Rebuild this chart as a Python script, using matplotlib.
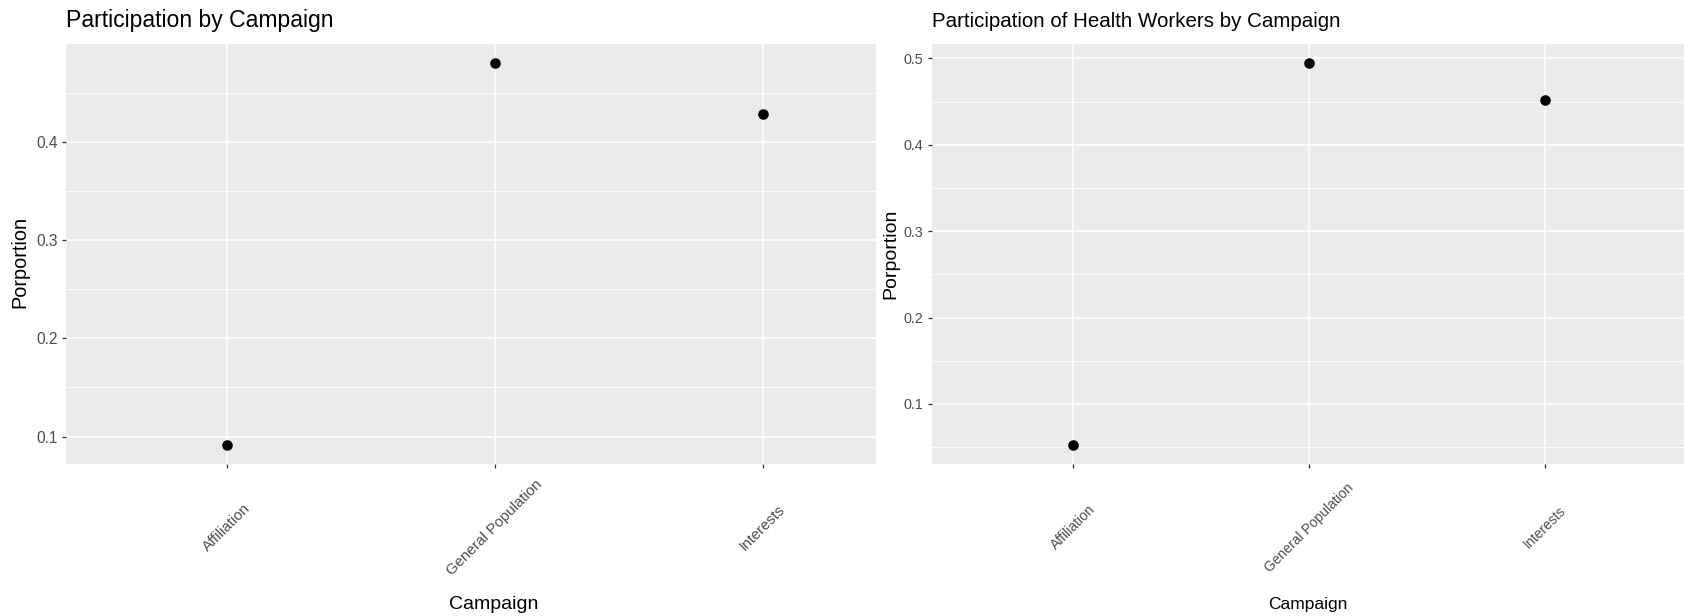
import matplotlib
matplotlib.use("Agg")
import matplotlib.pyplot as plt
import numpy as np

plt.rcParams['font.family'] = ['Liberation Sans', 'DejaVu Sans']

# Participation proportions per recruitment campaign
campaigns = ["Affiliation", "General Population", "Interests"]
overall = [0.0915, 0.480, 0.428]
health_workers = [0.0525, 0.4946, 0.4517]

left_yticks = [0.1, 0.2, 0.3, 0.4]
left_minor = [0.15, 0.25, 0.35, 0.45]
right_yticks = [0.1, 0.2, 0.3, 0.4, 0.5]
right_minor = [0.05, 0.15, 0.25, 0.35, 0.45]

PANEL_BG = "#EBEBEB"
TICK_TXT = "#4D4D4D"
TICK_COL = "#333333"

W, H = 1684, 616
fig = plt.figure(figsize=(W / 100, H / 100), dpi=100)


def expanded(vals, mult=0.05):
    lo, hi = min(vals), max(vals)
    pad = (hi - lo) * mult
    return lo - pad, hi + pad


def style_panel(ax, values, yticks, yminor, xlim, title, sizes, ylab_pos, xlab_pos):
    x = np.arange(len(campaigns))
    ax.set_facecolor(PANEL_BG)
    for s in ax.spines.values():
        s.set_visible(False)
    ax.set_axisbelow(True)
    ax.scatter(x, values, s=58, color="black", linewidths=0, zorder=3)
    ax.set_xlim(*xlim)
    ax.set_ylim(*expanded(values))
    ax.set_yticks(yticks)
    ax.set_yticklabels([f"{t:.1f}" for t in yticks])
    ax.set_yticks(yminor, minor=True)
    ax.set_xticks(x)
    ax.set_xticklabels(campaigns, rotation=45, ha="center", va="center")
    ax.grid(which="major", color="white", linewidth=1.2)
    ax.grid(which="minor", axis="y", color="white", linewidth=0.6)
    ax.tick_params(axis="y", which="major", length=3, width=0.9, color=TICK_COL,
                   labelcolor=TICK_TXT, labelsize=sizes["ytick"], pad=3)
    ax.tick_params(axis="x", which="major", length=3.2, width=0.9, color=TICK_COL,
                   labelcolor=TICK_TXT, labelsize=sizes["xtick"], pad=42.5)
    ax.tick_params(which="minor", length=0)
    ax.set_title(title, loc="left", fontsize=sizes["title"], pad=12.5, color="black")
    ax.set_ylabel("Porportion", fontsize=sizes["ylab"], color="black")
    ax.yaxis.set_label_coords(*ylab_pos)
    ax.yaxis.label.set_va("center")
    ax.set_xlabel("Campaign", fontsize=sizes["xlab"], color="black")
    ax.xaxis.set_label_coords(*xlab_pos)
    ax.xaxis.label.set_va("center")


top, bottom = 44, 464
ay = (H - bottom) / H
ah = (bottom - top) / H

ax1 = fig.add_axes([66 / W, ay, (876 - 66) / W, ah])
style_panel(ax1, overall, left_yticks, left_minor, (-0.6, 2.4235),
            "Participation by Campaign",
            dict(title=16.6, ylab=14.3, xlab=14, ytick=11.2, xtick=10.8),
            (-0.057, 0.48), (0.528, -0.334))

ax2 = fig.add_axes([931.5 / W, ay, (W - 931.5) / W, ah])
style_panel(ax2, health_workers, right_yticks, right_minor, (-0.6, 2.59),
            "Participation of Health Workers by Campaign",
            dict(title=14.8, ylab=14, xlab=12.5, ytick=10.4, xtick=10),
            (-0.054, 0.5), (0.5, -0.334))

fig.savefig("out.png", dpi=100, facecolor="white")
